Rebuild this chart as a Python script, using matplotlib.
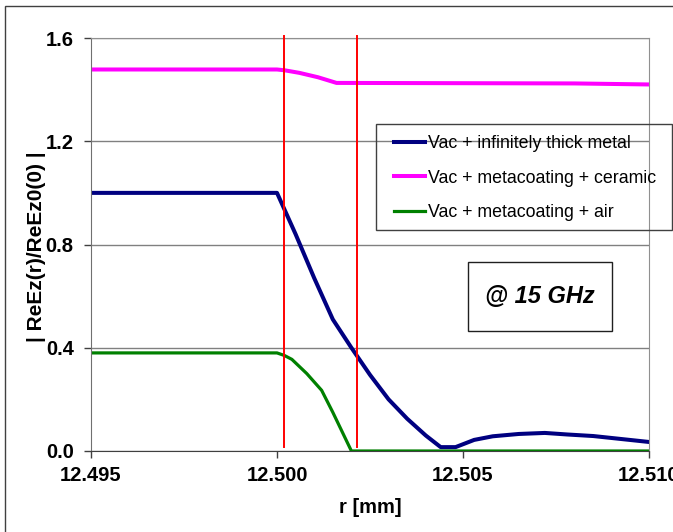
"""
Field profile |ReEz(r)/ReEz0(0)| across the wall boundary at 15 GHz
"""
import matplotlib
matplotlib.use("Agg")
import matplotlib.pyplot as plt
from matplotlib.patches import Rectangle

plt.rcParams['font.family'] = ['Liberation Sans', 'DejaVu Sans']

# radial positions [mm] and normalised field for each configuration
r_metal = [12.495, 12.5000, 12.5005, 12.5010, 12.5015, 12.5020, 12.5025, 12.5030,
           12.5035, 12.5040, 12.5044, 12.5048, 12.5053, 12.5058, 12.5065, 12.5072,
           12.5078, 12.5085, 12.5100]
ez_metal = [1.0, 1.0, 0.84, 0.67, 0.51, 0.40, 0.295, 0.20,
            0.125, 0.06, 0.015, 0.015, 0.043, 0.057, 0.066, 0.070,
            0.064, 0.058, 0.035]

r_ceramic = [12.495, 12.5000, 12.5002, 12.5006, 12.5011, 12.5016, 12.5080, 12.5100]
ez_ceramic = [1.478, 1.478, 1.475, 1.465, 1.448, 1.426, 1.424, 1.42]

r_air = [12.495, 12.5000, 12.5002, 12.5004, 12.5008, 12.5012, 12.5015, 12.5020, 12.5100]
ez_air = [0.38, 0.38, 0.37, 0.355, 0.30, 0.235, 0.15, 0.0, 0.0]

# boundaries of the metacoating layer
r_bounds = [12.5002, 12.50215]

labels = ["Vac + infinitely thick metal",
          "Vac + metacoating + ceramic",
          "Vac + metacoating + air"]

W, H = 673, 532
fig = plt.figure(figsize=(W / 100, H / 100), dpi=100)
ax = fig.add_axes([91 / W, 1 - 451 / H, 558 / W, 413 / H])

l1, = ax.plot(r_metal, ez_metal, color='#000080', lw=2.9, solid_joinstyle='round')
l2, = ax.plot(r_ceramic, ez_ceramic, color='#FF00FF', lw=2.9, solid_joinstyle='round')
l3, = ax.plot(r_air, ez_air, color='#008000', lw=2.3, solid_joinstyle='round')

for rb in r_bounds:
    ax.plot([rb, rb], [0.015, 1.607], color='#FF0000', lw=1.4, clip_on=False, zorder=3)

ax.set_xlim(12.495, 12.510)
ax.set_ylim(0, 1.6)
ax.set_xticks([12.495, 12.500, 12.505, 12.510])
ax.set_xticklabels(['12.495', '12.500', '12.505', '12.510'])
ax.set_yticks([0.0, 0.4, 0.8, 1.2, 1.6])
ax.set_yticklabels(['0.0', '0.4', '0.8', '1.2', '1.6'])
ax.tick_params(direction='out', length=5, width=1, colors='#404040',
               labelsize=14.5, labelcolor='black')
ax.tick_params(axis='x', pad=5.5)
ax.tick_params(axis='y', pad=7.5)
for t in ax.get_xticklabels() + ax.get_yticklabels():
    t.set_fontweight('bold')

ax.yaxis.grid(True, color='#808080', lw=1)
ax.set_axisbelow(True)
for side in ['top', 'right']:
    ax.spines[side].set_color('#909090')
ax.spines['left'].set_color('#707070')
ax.spines['bottom'].set_color('#404040')

ax.set_xlabel('r [mm]', fontsize=14.5, fontweight='bold', labelpad=9.5)
ax.set_ylabel('| ReEz(r)/ReEz0(0) |', fontsize=15, fontweight='bold')
ax.yaxis.set_label_coords(-0.081, 0.494)

# legend: frame drawn separately so the padding can differ per side
fig.patches.append(Rectangle((376 / W, 1 - 230 / H), 296 / W, 106 / H,
                             transform=fig.transFigure, fill=False,
                             ec='#404040', lw=1, zorder=5))
fig.legend([l1, l2, l3], labels, loc='upper left',
           bbox_to_anchor=(394 / W, 1 - 135 / H), fontsize=12.8,
           frameon=False, handlelength=1.75, handletextpad=0.18,
           labelspacing=0.99, borderpad=0, borderaxespad=0)

ax.text(12.50707, 0.599, '@ 15 GHz', fontsize=17, fontweight='bold', style='italic',
        ha='center', va='center')
fig.patches.append(Rectangle((468 / W, 1 - 331 / H), 144 / W, 69 / H,
                             transform=fig.transFigure, fill=False,
                             ec='#202020', lw=1, zorder=5))

# outer chart border
fig.patches.append(Rectangle((5 / W, -0.05), 1.1, 1 - 6 / H + 0.05,
                             transform=fig.transFigure, fill=False,
                             ec='#404040', lw=1))

fig.savefig('out.png', dpi=100)
